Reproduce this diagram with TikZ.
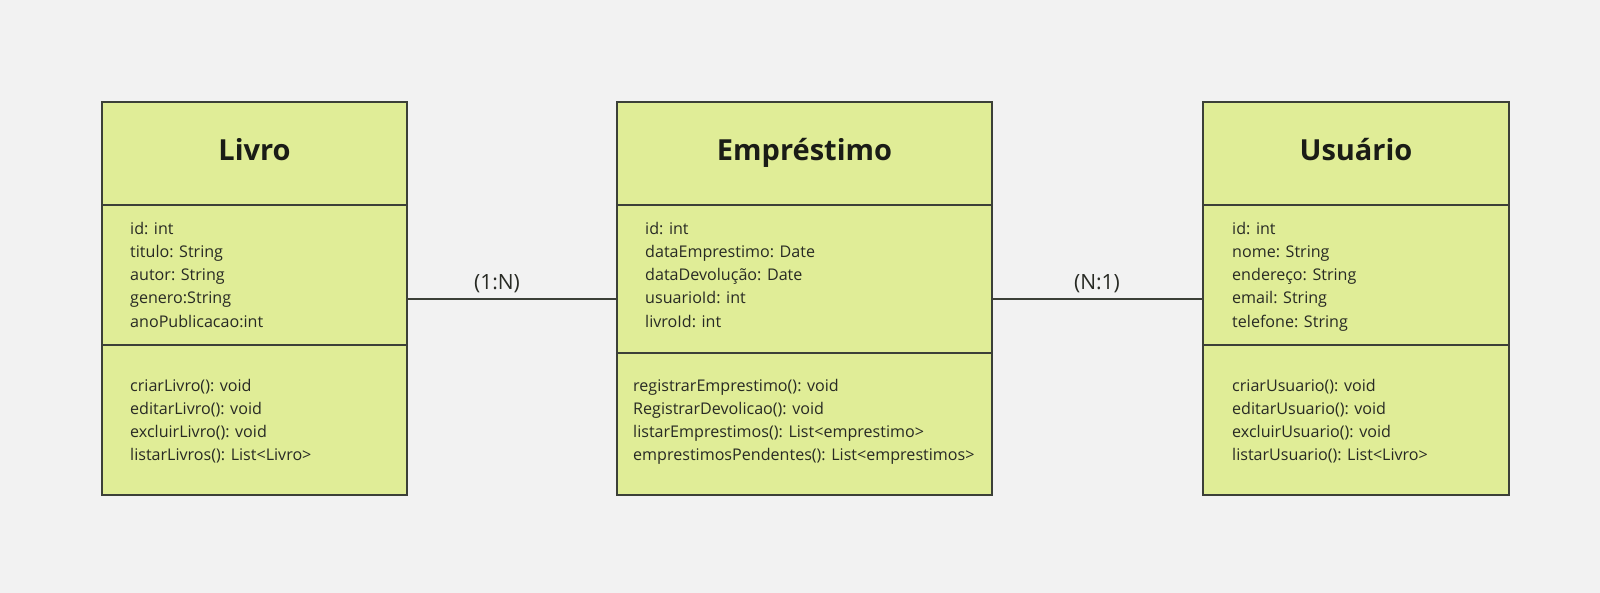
\documentclass[tikz,border=0pt]{standalone}
\usepackage{fontspec}
\setmainfont{Open Sans}
\definecolor{bg}{RGB}{242,242,242}
\definecolor{boxfill}{RGB}{224,237,151}
\definecolor{boxline}{RGB}{60,64,56}
\definecolor{txt}{RGB}{40,42,36}
\definecolor{ttl}{RGB}{26,28,22}
\begin{document}
\begin{tikzpicture}[x=1pt,y=-1pt,
  umlbox/.style={draw=boxline, fill=boxfill, line width=2pt, rectangle, inner sep=0, outer sep=0},
  ttlstyle/.style={font=\fontsize{29}{32}\selectfont\bfseries, text=ttl, inner sep=0, anchor=base},
  itm/.style={font=\fontsize{16.1}{20}\selectfont, text=txt, anchor=base west, inner sep=0},
  divider/.style={draw=boxline, line width=2.6pt},
  conn/.style={draw=boxline, line width=2.4pt},
  mult/.style={font=\fontsize{21}{24}\selectfont, text=txt, inner sep=0, anchor=base}]
\useasboundingbox (0,0) rectangle (1600,593);
\fill[bg] (0,0) rectangle (1600,593);

% boxes
\node[umlbox, minimum width=305pt, minimum height=393pt] (livro) at (254.5,298.5) {};
\node[umlbox, minimum width=375pt, minimum height=393pt] (emp) at (804.5,298.5) {};
\node[umlbox, minimum width=306pt, minimum height=393pt] (usu) at (1356,298.5) {};

% dividers
\draw[divider] (livro.west |- 0,205) -- (livro.east |- 0,205);
\draw[divider] (livro.west |- 0,345) -- (livro.east |- 0,345);
\draw[divider] (emp.west |- 0,205) -- (emp.east |- 0,205);
\draw[divider] (emp.west |- 0,353) -- (emp.east |- 0,353);
\draw[divider] (usu.west |- 0,205) -- (usu.east |- 0,205);
\draw[divider] (usu.west |- 0,345) -- (usu.east |- 0,345);

% titles
\node[ttlstyle] (tlivro) at (254.5,160.5) {Livro};
\node[ttlstyle] (temp) at (804.5,160.5) {Empréstimo};
\node[ttlstyle] (tusu) at (1356,160.5) {Usuário};

% Livro attributes
\node[itm] (la1) at (130,235) {id: int};
\node[itm] (la2) at (130,258) {titulo: String};
\node[itm] (la3) at (130,281) {autor: String};
\node[itm] (la4) at (130,304) {genero:String};
\node[itm] (la5) at (130,327) {anoPublicacao:int};
% Livro methods
\node[itm] (lm1) at (130,391) {criarLivro(): void};
\node[itm] (lm2) at (130,414) {editarLivro(): void};
\node[itm] (lm3) at (130,437) {excluirLivro(): void};
\node[itm] (lm4) at (130,460) {listarLivros(): List<Livro>};

% Emprestimo attributes
\node[itm] (ea1) at (645,235) {id: int};
\node[itm] (ea2) at (645,258) {dataEmprestimo: Date};
\node[itm] (ea3) at (645,281) {dataDevolução: Date};
\node[itm] (ea4) at (645,304) {usuarioId: int};
\node[itm] (ea5) at (645,327) {livroId: int};
% Emprestimo methods
\node[itm] (em1) at (633,391) {registrarEmprestimo(): void};
\node[itm] (em2) at (633,414) {RegistrarDevolicao(): void};
\node[itm] (em3) at (633,437) {listarEmprestimos(): List<emprestimo>};
\node[itm] (em4) at (633,460) {emprestimosPendentes(): List<emprestimos>};

% Usuario attributes
\node[itm] (ua1) at (1232,235) {id: int};
\node[itm] (ua2) at (1232,258) {nome: String};
\node[itm] (ua3) at (1232,281) {endereço: String};
\node[itm] (ua4) at (1232,304) {email: String};
\node[itm] (ua5) at (1232,327) {telefone: String};
% Usuario methods
\node[itm] (um1) at (1232,391) {criarUsuario(): void};
\node[itm] (um2) at (1232,414) {editarUsuario(): void};
\node[itm] (um3) at (1232,437) {excluirUsuario(): void};
\node[itm] (um4) at (1232,460) {listarUsuario(): List<Livro>};

% connectors
\draw[conn] (livro.east |- 0,299) -- (emp.west |- 0,299);
\draw[conn] (emp.east |- 0,299) -- (usu.west |- 0,299);
\node[mult] (m1) at (497,290) {(1:N)};
\node[mult] (m2) at (1097,290) {(N:1)};
\end{tikzpicture}
\end{document}
